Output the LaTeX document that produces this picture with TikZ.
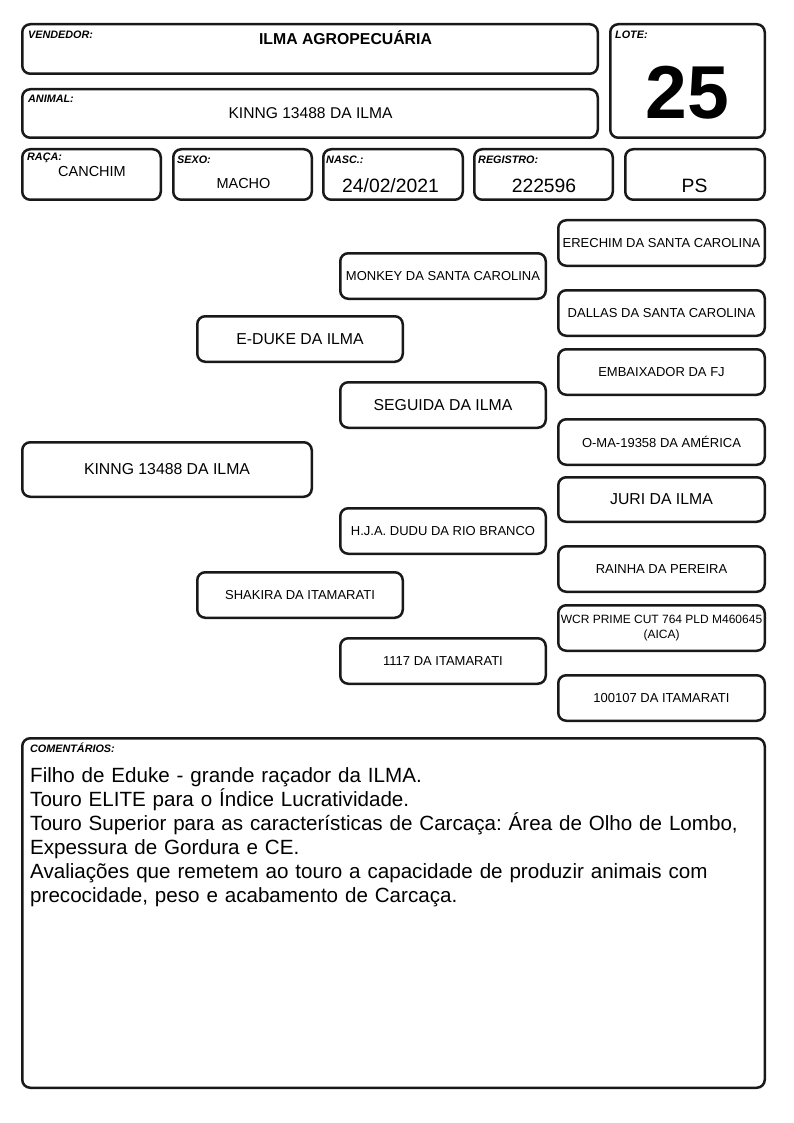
\documentclass[tikz,border=0pt]{standalone}
\usepackage{fontspec}
\setmainfont{Liberation Sans}
\frenchspacing
\begin{document}
\begin{tikzpicture}[x=1pt,y=-1pt,
  box/.style={draw=black!90, line width=2.5pt, rounded corners=8pt, inner sep=0pt},
  ped/.style={box, minimum width=205.5pt, minimum height=45.5pt, align=center, font=\fontsize{13}{14}\selectfont},
  pedr/.style={ped, minimum width=206.5pt},
  big/.style={font=\fontsize{15.8}{17}\selectfont},
  lbl/.style={anchor=west, inner sep=0pt, font=\fontsize{10.8}{12}\selectfont\bfseries\itshape},
  val/.style={inner sep=0pt, font=\fontsize{14.5}{17}\selectfont},
  valb/.style={inner sep=0pt, font=\fontsize{19.3}{22}\selectfont}]
\useasboundingbox (0,0) rectangle (794,1123);
% header boxes
\node[box, minimum width=575.5pt, minimum height=49.5pt] (vend) at (310,49) {};
\node[box, minimum width=154.5pt, minimum height=113.5pt] (lote) at (687.5,81) {};
\node[box, minimum width=575.5pt, minimum height=48.5pt] (animal) at (310,113.5) {};
\node[box, minimum width=138.5pt, minimum height=50.5pt] (raca) at (91.5,174.5) {};
\node[box, minimum width=138.5pt, minimum height=50.5pt] (sexo) at (242.5,174.5) {};
\node[box, minimum width=139.5pt, minimum height=50.5pt] (nasc) at (393,174.5) {};
\node[box, minimum width=138.5pt, minimum height=50.5pt] (reg) at (543.5,174.5) {};
\node[box, minimum width=139.5pt, minimum height=50.5pt] (ps) at (695,174.5) {};
% labels
\node[lbl] (lvend) at (28,35) {VENDEDOR:};
\node[lbl] (llote) at (615,35) {LOTE:};
\node[lbl] (lanimal) at (28,99) {ANIMAL:};
\node[lbl] (lraca) at (27,158) {RAÇA:};
\node[lbl] (lsexo) at (177,160) {SEXO:};
\node[lbl] (lnasc) at (326,160) {NASC.:};
\node[lbl] (lreg) at (478,160) {REGISTRO:};
% values
\node[inner sep=0pt, font=\fontsize{15.8}{17}\selectfont\bfseries] (vvend) at (345.5,38) {ILMA AGROPECUÁRIA};
\node[inner sep=0pt, font=\fontsize{75}{80}\selectfont\bfseries] (vlote) at (687.5,93) {25};
\node[val, font=\fontsize{15.6}{18}\selectfont] (vanimal) at (310.5,113.5) {KINNG 13488 DA ILMA};
\node[val] (vraca) at (92,172) {CANCHIM};
\node[val] (vsexo) at (243.5,184) {MACHO};
\node[valb] (vnasc) at (390.5,186) {24/02/2021};
\node[valb] (vreg) at (544,186) {222596};
\node[valb] (vps) at (694.5,186) {PS};
% pedigree
\node[box, minimum width=289.5pt, minimum height=54.5pt, big] (kinng) at (167,469.5) {KINNG 13488 DA ILMA};
\node[ped, big] (eduke) at (300,339) {E-DUKE DA ILMA};
\node[ped] (shakira) at (300,595) {SHAKIRA DA ITAMARATI};
\node[ped] (monkey) at (443,276) {MONKEY DA SANTA CAROLINA};
\node[ped, big] (seguida) at (443,405) {SEGUIDA DA ILMA};
\node[ped] (dudu) at (443,531) {H.J.A. DUDU DA RIO BRANCO};
\node[ped] (t1117) at (443,661) {1117 DA ITAMARATI};
\node[pedr] (erechim) at (661.5,243) {ERECHIM DA SANTA CAROLINA};
\node[pedr] (dallas) at (661.5,313) {DALLAS DA SANTA CAROLINA};
\node[pedr] (embaix) at (661.5,372) {EMBAIXADOR DA FJ};
\node[pedr] (oma) at (661.5,442) {O-MA-19358 DA AMÉRICA};
\node[pedr, big, minimum height=44.5pt] (juri) at (661.5,499.5) {JURI DA ILMA};
\node[pedr] (rainha) at (661.5,569) {RAINHA DA PEREIRA};
\node[pedr, font=\fontsize{12}{15}\selectfont] (wcr) at (661.5,628) {WCR PRIME CUT 764 PLD M460645\\(AICA)};
\node[pedr] (t100107) at (661.5,698) {100107 DA ITAMARATI};
% comments
\node[box, minimum width=742.5pt, minimum height=349.5pt] (coment) at (393.5,913) {};
\node[lbl] (lcoment) at (30,748) {COMENTÁRIOS:};
\node[anchor=base west, inner sep=0pt, text width=760pt, align=left, font=\fontsize{20.6}{24}\selectfont] (tcoment) at (30,782) {Filho de Eduke - grande raçador da ILMA.\\
Touro ELITE para o Índice Lucratividade.\\
Touro Superior para as características de Carcaça: Área de Olho de Lombo,\\
Expessura de Gordura e CE.\\
Avaliações que remetem ao touro a capacidade de produzir animais com\\
precocidade, peso e acabamento de Carcaça.};
\end{tikzpicture}
\end{document}
